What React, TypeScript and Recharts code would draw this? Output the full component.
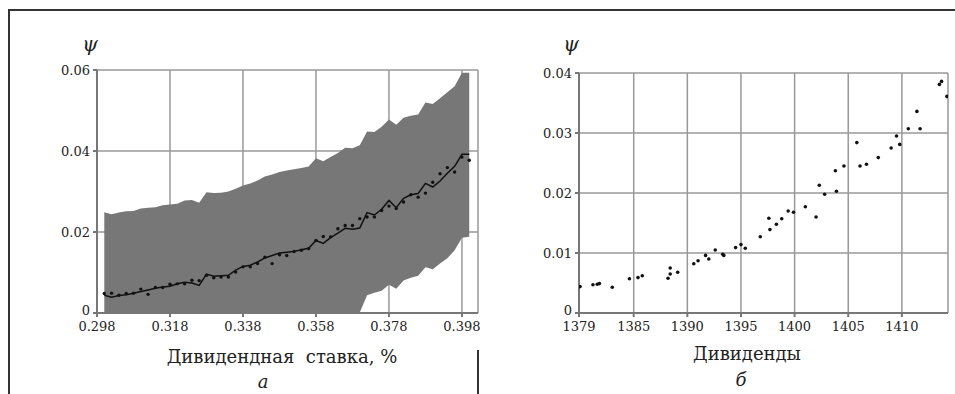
import { ComposedChart, ScatterChart, Area, Line, Scatter, XAxis, YAxis, CartesianGrid } from 'recharts';

// left panel: dividend rate vs psi
const rates = [
  0.300, 0.302, 0.304, 0.306, 0.308, 0.310, 0.312, 0.314, 0.316, 0.318,
  0.320, 0.322, 0.324, 0.326, 0.328, 0.330, 0.332, 0.334, 0.336, 0.338,
  0.340, 0.342, 0.344, 0.346, 0.348, 0.350, 0.352, 0.354, 0.356, 0.358,
  0.360, 0.362, 0.364, 0.366, 0.368, 0.370, 0.372, 0.374, 0.376, 0.378,
  0.380, 0.382, 0.384, 0.386, 0.388, 0.390, 0.392, 0.394, 0.396, 0.398, 0.400,
];
const upper = [
  0.0249, 0.0244, 0.0248, 0.0251, 0.0252, 0.0258, 0.0260, 0.0261, 0.0266, 0.0268,
  0.0270, 0.0278, 0.0279, 0.0272, 0.0298, 0.0296, 0.0297, 0.0300, 0.0307, 0.0315,
  0.0320, 0.0327, 0.0337, 0.0342, 0.0348, 0.0352, 0.0355, 0.0358, 0.0362, 0.0382,
  0.0375, 0.0385, 0.0395, 0.0408, 0.0407, 0.0414, 0.0448, 0.0447, 0.0460, 0.0478,
  0.0465, 0.0482, 0.0487, 0.0490, 0.0520, 0.0516, 0.0530, 0.0545, 0.0560, 0.0593, 0.0593,
];
const lower = [
  -0.0160, -0.0166, -0.0162, -0.0161, -0.0154, -0.0152, -0.0146, -0.0139, -0.0138, -0.0136,
  -0.0126, -0.0126, -0.0131, -0.0136, -0.0106, -0.0114, -0.0113, -0.0114, -0.0095, -0.0085,
  -0.0084, -0.0075, -0.0065, -0.0058, -0.0052, -0.0052, -0.0051, -0.0046, -0.0042, -0.0024,
  -0.0030, -0.0022, -0.0012, -0.0006, -0.0004, 0.0001, 0.0044, 0.0050, 0.0055, 0.0070,
  0.0060, 0.0080, 0.0087, 0.0092, 0.0113, 0.0108, 0.0122, 0.0135, 0.0155, 0.0186, 0.0188,
];
const fitted = [
  0.0044, 0.0039, 0.0043, 0.0045, 0.0049, 0.0053, 0.0057, 0.0061, 0.0064, 0.0066,
  0.0072, 0.0076, 0.0074, 0.0068, 0.0096, 0.0091, 0.0092, 0.0093, 0.0106, 0.0115,
  0.0118, 0.0126, 0.0136, 0.0142, 0.0148, 0.0150, 0.0152, 0.0156, 0.0160, 0.0179,
  0.0172, 0.0186, 0.0197, 0.0209, 0.0207, 0.0210, 0.0248, 0.0242, 0.0256, 0.0278,
  0.0260, 0.0283, 0.0292, 0.0295, 0.0320, 0.0311, 0.0326, 0.0345, 0.0362, 0.0392, 0.0392,
];
const observed = [
  0.0048, 0.0049, 0.0044, 0.0048, 0.0049, 0.0059, 0.0046, 0.0063, 0.0063, 0.0071,
  0.0072, 0.0072, 0.0081, 0.0080, 0.0093, 0.0087, 0.0089, 0.0089, 0.0101, 0.0114,
  0.0114, 0.0122, 0.0138, 0.0122, 0.0144, 0.0142, 0.0152, 0.0155, 0.0159, 0.0179,
  0.0189, 0.0188, 0.0208, 0.0216, 0.0216, 0.0233, 0.0237, 0.0237, 0.0253, 0.0264,
  0.0258, 0.0274, 0.0292, 0.0286, 0.0296, 0.0323, 0.0344, 0.0359, 0.0348, 0.0385, 0.0377,
];
const rateTicks = [0.298, 0.318, 0.338, 0.358, 0.378, 0.398];
const psiTicksA = [0, 0.02, 0.04, 0.06];

// right panel: dividends vs psi
const dividends = [
  1380.0, 1381.2, 1381.6, 1381.8, 1383.0, 1384.6, 1385.4, 1385.8, 1388.2, 1388.4,
  1388.4, 1389.1, 1390.6, 1391.0, 1391.7, 1392.0, 1392.6, 1393.3, 1393.4, 1394.5,
  1395.0, 1395.4, 1396.8, 1397.6, 1397.7, 1398.3, 1398.8, 1399.4, 1399.9, 1401.0,
  1402.0, 1402.3, 1402.8, 1403.8, 1403.9, 1404.6, 1405.8, 1406.1, 1406.7, 1407.8,
  1409.0, 1409.5, 1409.8, 1410.6, 1411.4, 1411.7, 1413.5, 1413.7, 1414.2,
];
const psiB = [
  0.0044, 0.0047, 0.0048, 0.0049, 0.0043, 0.0057, 0.0059, 0.0062, 0.0058, 0.0075,
  0.0065, 0.0068, 0.0082, 0.0087, 0.0096, 0.0090, 0.0105, 0.0098, 0.0096, 0.0109,
  0.0114, 0.0108, 0.0127, 0.0158, 0.0139, 0.0148, 0.0157, 0.0170, 0.0168, 0.0177,
  0.0160, 0.0213, 0.0198, 0.0237, 0.0203, 0.0245, 0.0284, 0.0245, 0.0248, 0.0259,
  0.0275, 0.0295, 0.0281, 0.0307, 0.0336, 0.0307, 0.0381, 0.0386, 0.0361,
];
const divTicks = [1379.9, 1385, 1390, 1395, 1400, 1405, 1410];
const psiTicksB = [0, 0.01, 0.02, 0.03, 0.04];

const dataA = rates.map((x, i) => ({ x, band: [lower[i], upper[i]], fit: fitted[i], obs: observed[i] }));
const dataB = dividends.map((x, i) => ({ x, y: psiB[i] }));

const serif = 'DejaVu Serif';

// y tick: "0" sits a little higher than the others, like the scan
function YTick({ x, y, payload }: any) {
  const v = payload.value;
  return (
    <text x={x} y={v === 0 ? y - 3 : y} dy={5} textAnchor="end"
      fontFamily={serif} fontSize={13} fill="#222">
      {v === 0 ? '0' : String(v)}
    </text>
  );
}

function XTick({ x, y, payload, fmt }: any) {
  return (
    <text x={x} y={y} dy={12} textAnchor="middle" fontFamily={serif} fontSize={13} fill="#222">
      {fmt ? fmt(payload.value) : String(payload.value)}
    </text>
  );
}

function Txt({ x, y, children, size = 18, italic = false }: any) {
  return (
    <div style={{
      position: 'absolute', left: x, top: y, transform: 'translate(-50%, -50%)',
      fontFamily: serif, fontSize: size, fontStyle: italic ? 'italic' : 'normal',
      color: '#222', whiteSpace: 'pre', lineHeight: 1,
    }}>{children}</div>
  );
}

const floorFmt = (v: number) => String(Math.floor(v));

export default function App() {
  return (
    <div style={{ position: 'absolute', left: 0, top: 0, width: 955, height: 394, background: '#fff', overflow: 'hidden' }}>
      <div style={{ position: 'absolute', left: 8, top: 9, width: 947, height: 2, background: '#333' }} />
      <div style={{ position: 'absolute', left: 8, top: 9, width: 2, height: 385, background: '#333' }} />
      <div style={{ position: 'absolute', left: 477, top: 350, width: 2, height: 44, background: '#333' }} />

      <div style={{ position: 'absolute', left: 0, top: 0 }}>
        <ComposedChart width={490} height={394} data={dataA} margin={{ top: 70, right: 12, bottom: 51, left: 0 }}>
          <CartesianGrid stroke="#999" strokeWidth={1.5} />
          <XAxis dataKey="x" type="number" domain={[0.298, 0.4024]} ticks={rateTicks} allowDataOverflow
            tick={<XTick />} tickSize={4} stroke="#777" strokeWidth={2} height={30} />
          <YAxis type="number" domain={[0, 0.06]} ticks={psiTicksA} allowDataOverflow
            tick={<YTick />} tickSize={4} tickMargin={3} stroke="#777" strokeWidth={2} width={97} />
          <Area dataKey="band" type="linear" fill="#777" fillOpacity={1} stroke="none" isAnimationActive={false} />
          <Line dataKey="fit" type="linear" stroke="#111" strokeWidth={1.5} dot={false} isAnimationActive={false} />
          <Line dataKey="obs" stroke="none" dot={{ r: 1.7, fill: '#111', stroke: 'none' }} activeDot={false} isAnimationActive={false} />
        </ComposedChart>
      </div>

      <div style={{ position: 'absolute', left: 480, top: 0 }}>
        <ScatterChart width={475} height={394} margin={{ top: 73, right: 7, bottom: 51, left: 0 }}>
          <CartesianGrid stroke="#999" strokeWidth={1.5} />
          <XAxis dataKey="x" type="number" domain={[1379.9, 1414.3]} ticks={divTicks} allowDataOverflow
            tick={<XTick fmt={floorFmt} />} tickSize={4} stroke="#777" strokeWidth={2} height={30} />
          <YAxis dataKey="y" type="number" domain={[0, 0.04]} ticks={psiTicksB}
            tick={<YTick />} tickSize={4} tickMargin={3} stroke="#777" strokeWidth={2} width={99} />
          <Scatter data={dataB} fill="#111" shape={(p: any) => <circle cx={p.cx} cy={p.cy} r={1.8} fill="#111" />} isAnimationActive={false} />
        </ScatterChart>
      </div>

      <Txt x={90} y={44} size={20} italic>ψ</Txt>
      <Txt x={571} y={44} size={20} italic>ψ</Txt>
      <Txt x={282} y={357}>{'Дивидендная  ставка, %'}</Txt>
      <Txt x={263} y={382} italic>а</Txt>
      <Txt x={747} y={354}>Дивиденды</Txt>
      <Txt x={741} y={380} italic>б</Txt>
    </div>
  );
}
